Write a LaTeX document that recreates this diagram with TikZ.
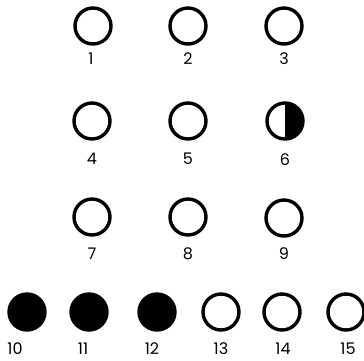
\documentclass[tikz,border=0pt]{standalone}
\usepackage{fontspec}
\setmainfont{Poppins}
\usepackage{tikz}

\tikzset{
  dot/.style={circle, draw=black, line width=3.4pt, minimum size=36pt, inner sep=0pt, fill=white},
  darkdot/.style={dot, fill=black},
  halfdot/.style={dot, path picture={\fill[black] (path picture bounding box.north) rectangle (path picture bounding box.south east);}},
  num/.style={inner sep=0pt, font=\fontsize{16}{16}\selectfont}
}

\begin{document}
\begin{tikzpicture}[x=1pt, y=-1pt]
        \useasboundingbox (0,0) rectangle (364,360);

        % open circles, rows 1 to 3
        \foreach \n/\x/\y/\lx/\ly in {1/93/26/91/59, 2/188/26/188/59, 3/284/26/284/59,
                                     4/92/121/92/159, 5/188/121/188/159,
                                     7/92/217/92/254, 8/188/217/188/254, 9/284/218/284/254} {
          \node[dot] (c\n) at (\x,\y) {};
          \node[num] (l\n) at (\lx,\ly) {\n};
        }

        % half filled one
        \node[halfdot] (c6) at (285,121) {};
        \node[num] (l6) at (285,160) {6};

        % bottom row
        \foreach \n/\x/\lx in {10/27/15, 11/89/83, 12/157/152} {
          \node[darkdot] (c\n) at (\x,312) {};
          \node[num] (l\n) at (\lx,349) {\n};
        }
        \foreach \n/\x/\lx in {13/221/221, 14/282/283, 15/346/348} {
          \node[dot] (c\n) at (\x,312) {};
          \node[num] (l\n) at (\lx,349) {\n};
        }
      \end{tikzpicture}
\end{document}
